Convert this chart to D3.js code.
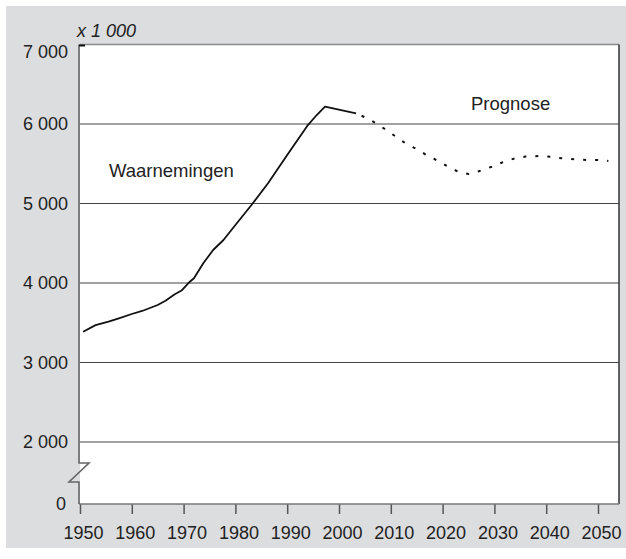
<!DOCTYPE html>
<html>
<head>
<meta charset="utf-8">
<script src="https://cdn.jsdelivr.net/npm/d3@7"></script>
<style>
  body { margin: 0; background: #fff; }
  text { font-family: "Liberation Sans", Arial, sans-serif; fill: #222; }
</style>
</head>
<body>
<div id="container"></div>
<script>
/* DATA (population x 1 000) */
const obsYears  = [1950.6, 1953, 1955.5, 1957.5, 1960, 1962, 1965, 1966.5, 1968.3, 1969.6, 1971.2, 1972, 1973.8, 1975.7, 1977.7, 1980, 1983.1, 1986.3, 1990, 1994, 1995.7, 1997.3, 2003.3];
const obsValues = [3387, 3470, 3513, 3556, 3610, 3648, 3723, 3777, 3858, 3905, 4016, 4060, 4248, 4415, 4541, 4730, 4981, 5254, 5610, 5987, 6113, 6218, 6134];

const progYears  = [2003.3, 2005, 2007, 2009, 2011, 2013, 2015, 2017, 2019, 2021, 2023, 2025, 2027, 2029.5, 2032, 2034, 2036, 2038.5, 2041, 2043, 2045.5, 2048, 2050, 2052];
const progValues = [6134, 6085, 6015, 5930, 5840, 5750, 5685, 5605, 5540, 5465, 5400, 5371, 5405, 5463, 5530, 5568, 5590, 5597, 5588, 5568, 5556, 5547, 5547, 5535];

const yTicks = [0, 2000, 3000, 4000, 5000, 6000, 7000];
const gridTicks = [2000, 3000, 4000, 5000, 6000];
const xTicks = [1950, 1960, 1970, 1980, 1990, 2000, 2010, 2020, 2030, 2040, 2050];

/* CONSTANTS */
const width = 626, height = 559;
const margin = { left: 80, right: 619, top: 44.5, bottom: 504 }; // plot edges in px
const fontSize = "18px";

const svg = d3.select("#container")
  .append("svg")
  .attr("width", width)
  .attr("height", height);

/* SCALES */
const xScale = d3.scaleLinear()
  .domain([1950, 2050])
  .range([margin.left, 598]);

// broken axis: 0 .. 2000 squeezed, 2000 .. 7000 linear
const yScale = d3.scaleLinear()
  .domain([0, 2000, 7000])
  .range([margin.bottom, 442, margin.top]);

/* BACKGROUND */
svg.append("rect")
  .attr("x", 6).attr("y", 6)
  .attr("width", width - 6).attr("height", 548 - 6)
  .attr("fill", "#dcdddf");

svg.append("rect")
  .attr("x", margin.left).attr("y", margin.top)
  .attr("width", margin.right - margin.left).attr("height", margin.bottom - margin.top)
  .attr("fill", "#fff");

/* GRID */
svg.selectAll(".grid")
  .data(gridTicks)
  .join("line")
  .attr("class", "grid")
  .attr("x1", margin.left).attr("x2", margin.right)
  .attr("y1", d => yScale(d)).attr("y2", d => yScale(d))
  .attr("stroke", "#444")
  .attr("stroke-width", 1.2);

// frame top + right
svg.append("line")
  .attr("x1", margin.left).attr("x2", margin.right)
  .attr("y1", margin.top).attr("y2", margin.top)
  .attr("stroke", "#8a8a8a").attr("stroke-width", 1.5);
svg.append("line")
  .attr("x1", margin.right).attr("x2", margin.right)
  .attr("y1", margin.top).attr("y2", margin.bottom)
  .attr("stroke", "#333").attr("stroke-width", 1.5);

/* X AXIS */
const xAxis = d3.axisBottom(xScale)
  .tickValues(xTicks)
  .tickSize(10)
  .tickPadding(12)
  .tickFormat(d3.format("d"));

const gx = svg.append("g")
  .attr("transform", `translate(0, ${margin.bottom})`)
  .call(xAxis);
gx.select(".domain").remove();
gx.selectAll(".tick line").attr("stroke", "#555").attr("stroke-width", 1.5);
gx.selectAll(".tick text")
  .attr("dx", 3)
  .style("font-size", fontSize)
  .style("font-family", "'Liberation Sans', Arial, sans-serif")
  .attr("fill", "#222");

svg.append("line")
  .attr("x1", margin.left - 1).attr("x2", margin.right)
  .attr("y1", margin.bottom).attr("y2", margin.bottom)
  .attr("stroke", "#777").attr("stroke-width", 1.5);

/* Y AXIS with break */
const bTop = yScale(2000) + 21, bBot = yScale(0) - 22;
const axisPath = d3.path();
axisPath.moveTo(79, margin.top);
axisPath.lineTo(79, bTop);
axisPath.lineTo(89, bTop);
axisPath.lineTo(69, bBot);
axisPath.lineTo(79, bBot);
axisPath.lineTo(79, margin.bottom);
svg.append("path")
  .attr("d", axisPath.toString())
  .attr("fill", "none")
  .attr("stroke", "#666")
  .attr("stroke-width", 1.6);

svg.append("line")
  .attr("x1", 79).attr("x2", 85)
  .attr("y1", margin.top + 1).attr("y2", margin.top + 1)
  .attr("stroke", "#111").attr("stroke-width", 2);

const yFormat = d => d3.format(",")(d).replace(/,/g, " ");
svg.selectAll(".ylabel")
  .data(yTicks)
  .join("text")
  .attr("class", "ylabel")
  .attr("x", d => d === 0 ? 66 : 68)
  .attr("y", d => yScale(d) + (d === 7000 ? 7 : 0))
  .attr("dy", "0.35em")
  .attr("text-anchor", "end")
  .style("font-size", fontSize)
  .text(yFormat);

svg.append("text")
  .attr("x", 77).attr("y", 37)
  .style("font-size", fontSize)
  .style("font-style", "italic")
  .text("x 1 000");

/* LINES */
const line = d3.line()
  .x(d => xScale(d[0]))
  .y(d => yScale(d[1]));

svg.append("path")
  .datum(d3.zip(obsYears, obsValues))
  .attr("d", line)
  .attr("fill", "none")
  .attr("stroke", "#111")
  .attr("stroke-width", 1.8)
  .attr("stroke-linejoin", "round");

svg.append("path")
  .datum(d3.zip(progYears, progValues))
  .attr("d", line)
  .attr("fill", "none")
  .attr("stroke", "#111")
  .attr("stroke-width", 2)
  .attr("stroke-dasharray", "3,9")
  .attr("stroke-dashoffset", -6);

/* LABELS */
svg.append("text")
  .attr("x", 109).attr("y", 177)
  .style("font-size", "18.5px")
  .text("Waarnemingen");

svg.append("text")
  .attr("x", 471).attr("y", 110)
  .style("font-size", "18.5px")
  .text("Prognose");
</script>
</body>
</html>
